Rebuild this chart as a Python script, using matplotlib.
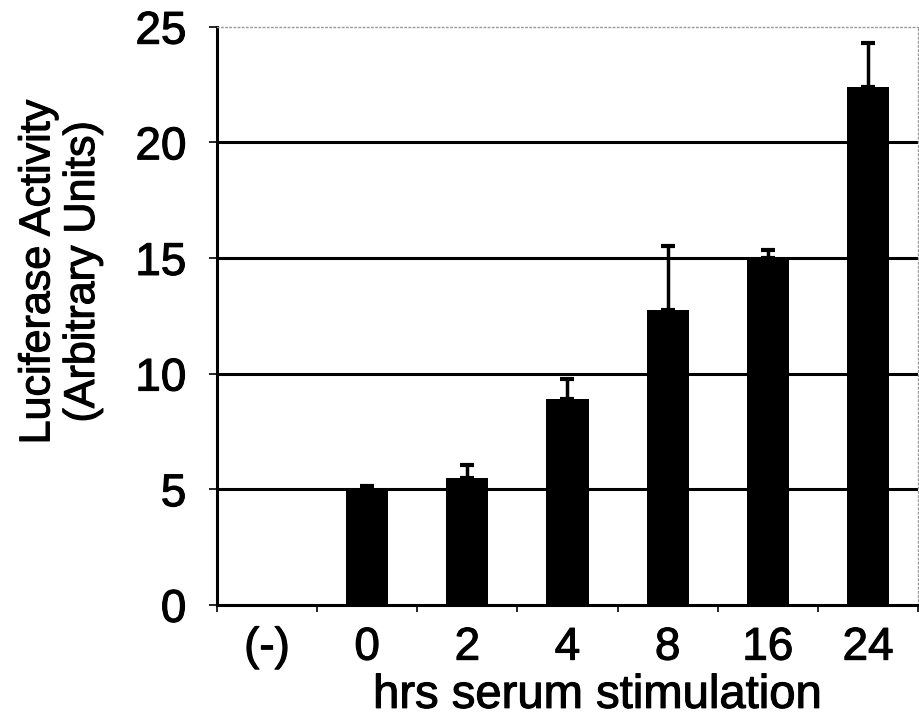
import matplotlib.pyplot as plt
import matplotlib.patheffects as pe
import numpy as np

# Luciferase reporter activity after serum stimulation
labels = ["(-)", "0", "2", "4", "8", "16", "24"]
activity = [0.0, 5.0, 5.5, 8.9, 12.75, 15.0, 22.4]
err_up = [0.0, 0.15, 0.55, 0.85, 2.75, 0.35, 1.9]

plt.rcParams['font.family'] = ['Liberation Sans', 'DejaVu Sans']
heavy = [pe.withStroke(linewidth=0.8, foreground='black')]

fig = plt.figure(figsize=(9.19, 7.2), dpi=100)
ax = fig.add_axes([0.236, 0.160, 0.763, 0.803])

x = np.arange(len(labels))
ax.bar(x, activity, width=0.42, color='black', zorder=3)
lower = np.zeros(len(err_up))
ax.errorbar(x[1:], activity[1:], yerr=[lower[1:], err_up[1:]], fmt='none',
            ecolor='black', elinewidth=2.5, capsize=5, capthick=3, zorder=4)

ax.set_xlim(-0.5, len(labels) - 0.5)
ax.set_ylim(0, 25)
ax.set_yticks([0, 5, 10, 15, 20, 25])

# x ticks sit on the category boundaries, labels in the middle
ax.set_xticks(np.arange(len(labels) + 1) - 0.5)
ax.set_xticklabels([])
ax.set_xticks(x, minor=True)
ax.set_xticklabels(labels, minor=True, fontsize=33)
ax.tick_params(axis='x', which='minor', length=0, pad=15)
ax.tick_params(axis='x', which='major', length=5, width=1.2, direction='out')
ax.tick_params(axis='y', labelsize=33, length=6, width=1.2, pad=16)
for lbl in ax.get_xticklabels(minor=True) + ax.get_yticklabels():
    lbl.set_path_effects(heavy)

for y in [5, 10, 15, 20]:
    ax.axhline(y, color='black', linewidth=2.2, zorder=1)

ax.spines['left'].set_linewidth(2.2)
ax.spines['bottom'].set_linewidth(2.2)
for side in ['top', 'right']:
    ax.spines[side].set_color('#999999')
    ax.spines[side].set_linestyle((0, (1, 2)))
    ax.spines[side].set_linewidth(1.0)

fig.text(0.650, 0.003, "hrs serum stimulation", ha='center', va='bottom',
         fontsize=34, path_effects=heavy)
fig.text(0.066, 0.622, "Luciferase Activity\n(Arbitrary Units)", rotation=90,
         ha='center', va='center', fontsize=31, linespacing=1.15,
         path_effects=heavy)

fig.savefig("out.png", dpi=100)
